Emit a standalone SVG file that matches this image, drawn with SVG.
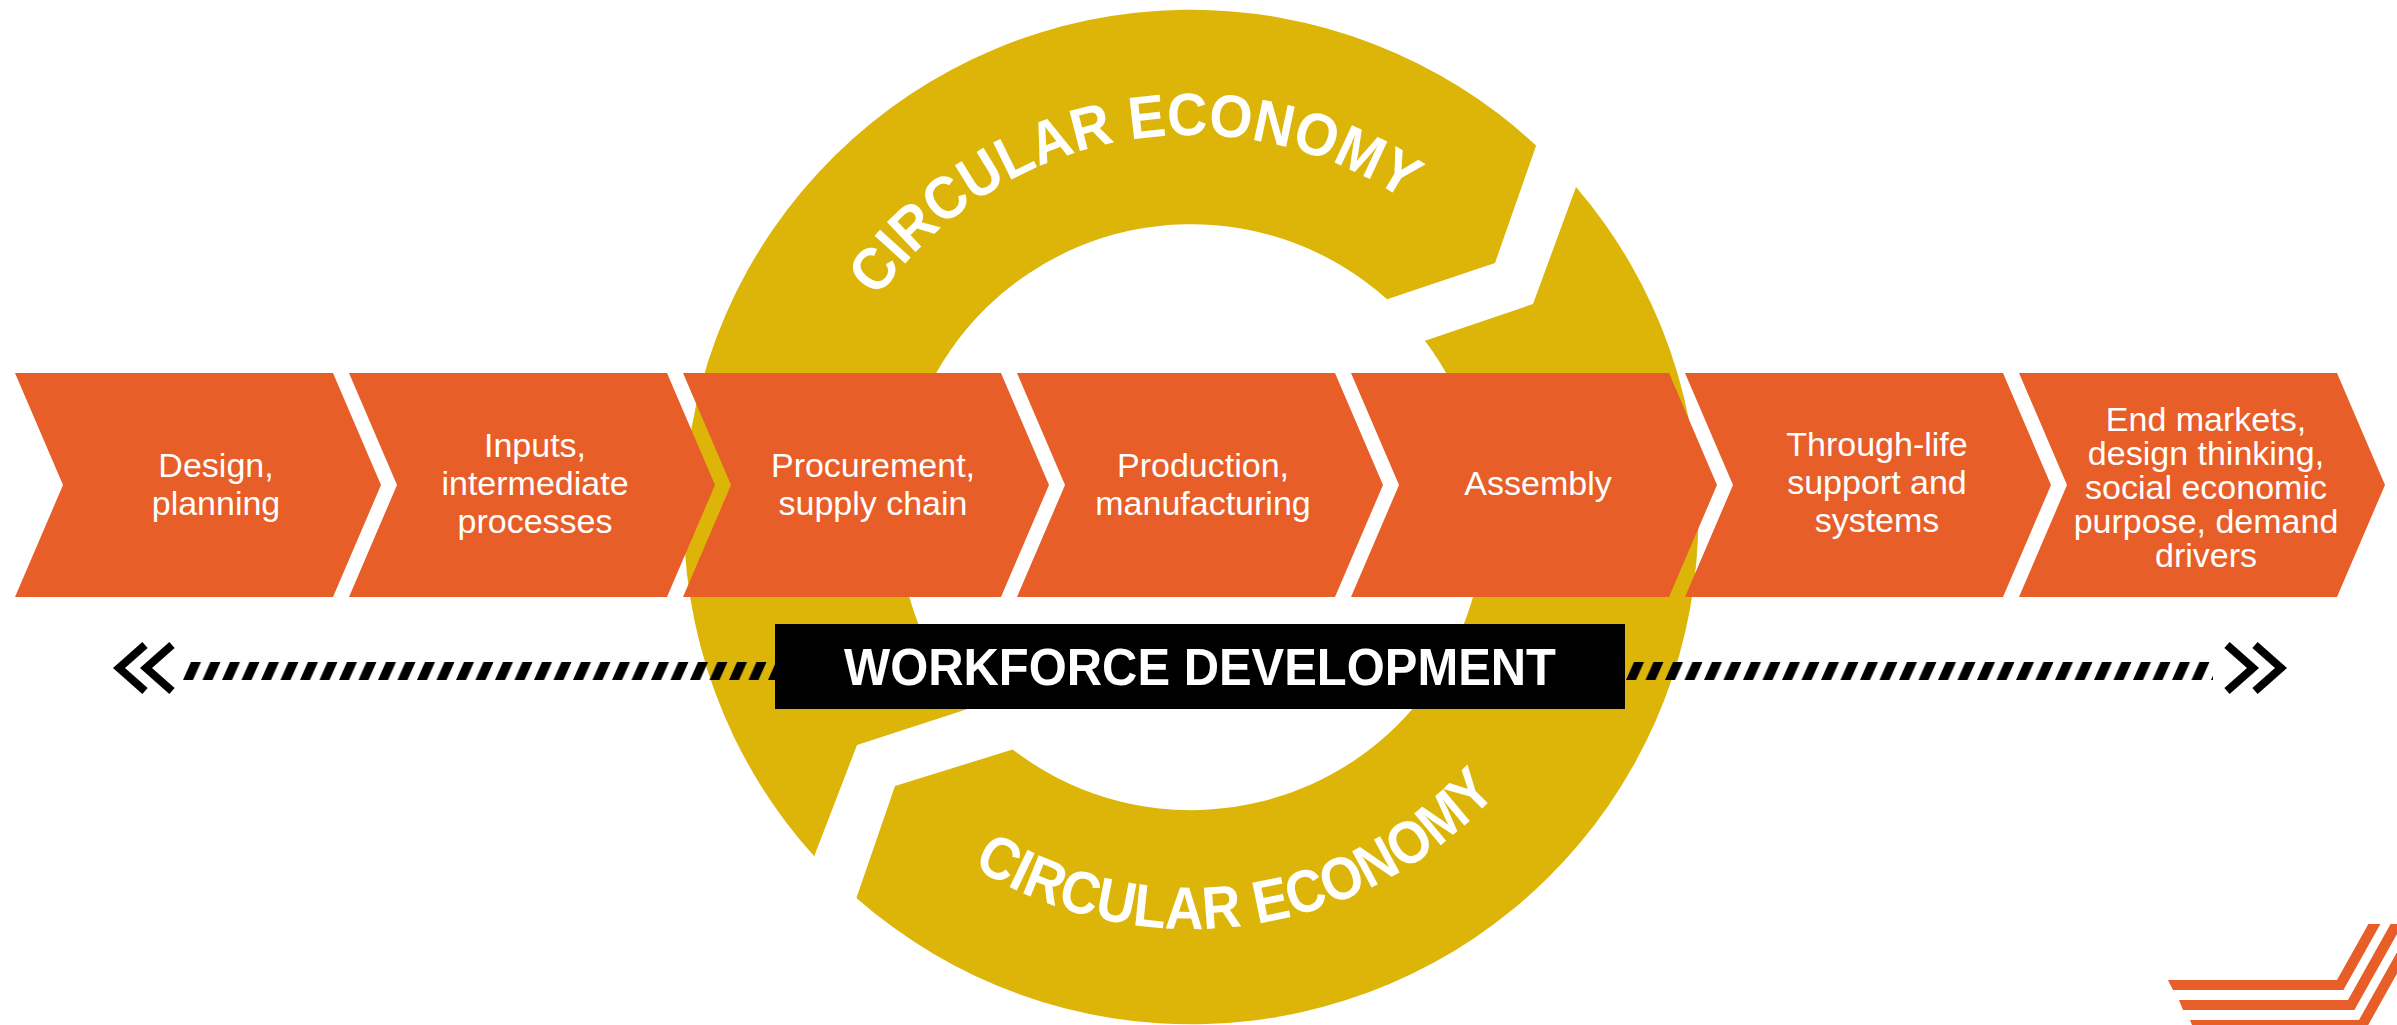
<svg xmlns="http://www.w3.org/2000/svg" xmlns:xlink="http://www.w3.org/1999/xlink" width="2397" height="1025" viewBox="0 0 2397 1025">
  <style>
    .ring { fill: #DCB508; }
    .chev { fill: #E85E28; }
    .label { font-family: "Liberation Sans", Arial, sans-serif; font-size: 34px; fill: #FFFFFF; text-anchor: middle; }
    .arc-text { font-family: "Liberation Sans", Arial, sans-serif; font-weight: bold; font-size: 60px; fill: #FFFFFF; }
    .wd-text { font-family: "Liberation Sans", Arial, sans-serif; font-weight: bold; font-size: 51px; fill: #FFFFFF; text-anchor: middle; }
    .dbl { fill: none; stroke: #000000; stroke-width: 8; stroke-linejoin: miter; }
    .logo { fill: #E85E28; }
  </style>
  <defs>
    <polygon id="chevron" points="0,373 318,373 366,485 318,597 0,597 48,485"/>
    <path id="arcTop" d="M 878.1 297.9 A 382 382 0 0 1 1404.6 200.3"/>
    <path id="arcBottom" d="M 972.7 866.4 A 412 412 0 0 0 1497.2 792.7"/>
    <pattern id="hatch" patternUnits="userSpaceOnUse" x="183" y="662" width="19.5" height="18">
      <polygon points="0,18 8,0 18,0 10,18" fill="#000000"/>
    </pattern>
  </defs>

  <rect width="2397" height="1025" fill="#FFFFFF"/>

  <g id="circular-economy-top">
    <path class="ring" d="M 814.2 856.3 A 507 507 0 0 1 1536.1 145.6 L 1495 263 L 1387.1 299.3 A 293 293 0 0 0 969.2 708.4 L 857 745 Z"/>
    <text class="arc-text"><textPath href="#arcTop" xlink:href="#arcTop" textLength="593" lengthAdjust="spacingAndGlyphs">CIRCULAR ECONOMY</textPath></text>
  </g>

  <g id="circular-economy-bottom">
    <path class="ring" d="M 1576 187 A 507 507 0 0 1 856.4 897.9 L 895 786 L 1012.6 749.5 A 293 293 0 0 0 1425 340.7 L 1533 304 Z"/>
    <text class="arc-text"><textPath href="#arcBottom" xlink:href="#arcBottom" textLength="575" lengthAdjust="spacingAndGlyphs">CIRCULAR ECONOMY</textPath></text>
  </g>

  <g id="stage-1">
    <use href="#chevron" xlink:href="#chevron" x="15" class="chev"/>
    <text class="label" x="216" y="477">Design,</text>
    <text class="label" x="216" y="515">planning</text>
  </g>
  <g id="stage-2">
    <use href="#chevron" xlink:href="#chevron" x="349" class="chev"/>
    <text class="label" x="535" y="457">Inputs,</text>
    <text class="label" x="535" y="495">intermediate</text>
    <text class="label" x="535" y="533">processes</text>
  </g>
  <g id="stage-3">
    <use href="#chevron" xlink:href="#chevron" x="683" class="chev"/>
    <text class="label" x="873" y="477">Procurement,</text>
    <text class="label" x="873" y="515">supply chain</text>
  </g>
  <g id="stage-4">
    <use href="#chevron" xlink:href="#chevron" x="1017" class="chev"/>
    <text class="label" x="1203" y="477">Production,</text>
    <text class="label" x="1203" y="515">manufacturing</text>
  </g>
  <g id="stage-5">
    <use href="#chevron" xlink:href="#chevron" x="1351" class="chev"/>
    <text class="label" x="1538" y="495">Assembly</text>
  </g>
  <g id="stage-6">
    <use href="#chevron" xlink:href="#chevron" x="1685" class="chev"/>
    <text class="label" x="1877" y="456">Through-life</text>
    <text class="label" x="1877" y="494">support and</text>
    <text class="label" x="1877" y="532">systems</text>
  </g>
  <g id="stage-7">
    <use href="#chevron" xlink:href="#chevron" x="2019" class="chev"/>
    <text class="label" x="2206" y="431">End markets,</text>
    <text class="label" x="2206" y="465">design thinking,</text>
    <text class="label" x="2206" y="499">social economic</text>
    <text class="label" x="2206" y="533">purpose, demand</text>
    <text class="label" x="2206" y="567">drivers</text>
  </g>

  <g id="connectors">
    <rect x="183" y="662" width="600" height="18" fill="url(#hatch)"/>
    <rect x="1620" y="662" width="593" height="18" fill="url(#hatch)"/>
    <polyline class="dbl" points="145,645 119,668 145,691"/>
    <polyline class="dbl" points="172,645 146,668 172,691"/>
    <polyline class="dbl" points="2227,645 2253,668 2227,691"/>
    <polyline class="dbl" points="2255,645 2281,668 2255,691"/>
  </g>

  <g id="workforce-development">
    <rect x="775" y="624" width="850" height="85" fill="#000000"/>
    <text class="wd-text" x="1200" y="685" textLength="712" lengthAdjust="spacingAndGlyphs">WORKFORCE DEVELOPMENT</text>
  </g>

  <g id="logo">
    <polygon class="logo" points="2168,980 2337,980 2368.4,924 2380.4,924 2343.4,990 2173,990"/>
    <polygon class="logo" points="2179,1000 2348,1000 2390.6,924 2402.6,924 2354.4,1010 2183,1010"/>
    <polygon class="logo" points="2190,1020 2359,1020 2412.8,924 2424.8,924 2365.4,1030 2194,1030"/>
  </g>
</svg>
